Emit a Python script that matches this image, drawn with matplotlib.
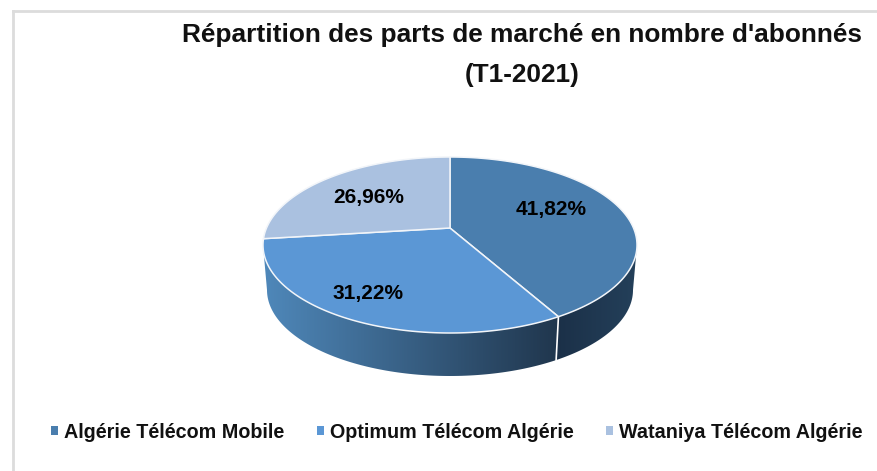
import matplotlib
matplotlib.use("Agg")
import matplotlib.pyplot as plt
import numpy as np
from matplotlib.colors import LinearSegmentedColormap
from matplotlib.lines import Line2D
from matplotlib.patches import Patch, Polygon

operators = ["Algérie Télécom Mobile", "Optimum Télécom Algérie", "Wataniya Télécom Algérie"]
shares = [41.82, 31.22, 26.96]
colors = ["#4a7eae", "#5b97d5", "#aac1e0"]
title_lines = "Répartition des parts de marché en nombre d'abonnés\n(T1-2021)"

FONT = "Liberation Sans"
CX, CY, RX, RY = 450, 245, 187, 88       # top face
BX, BY, BRX, BRY = 450, 290, 183, 86     # bottom of the rim
TILT = 0.193                             # perspective shift of the pie centre


def project(theta):
    # clockwise angle from 12 o'clock -> unit circle seen in perspective
    u, v = np.sin(theta), np.cos(theta)
    d = 1 + TILT * v
    return u * np.sqrt(1 - TILT ** 2) / d, (v + TILT) / d


def top_xy(u, v):
    return np.column_stack([CX + RX * u, CY - RY * v])


def bottom_xy(u, v):
    return np.column_stack([BX + BRX * u, BY - BRY * v])


def rim(ax, a, b, c0, c1):
    # a, b are angles on the projected ellipse, c0 -> c1 runs left to right
    t = np.linspace(a, b, 100)
    u, v = np.sin(t), np.cos(t)
    pts = np.vstack([top_xy(u, v), bottom_xy(u, v)[::-1]])
    poly = Polygon(pts, closed=True, fc="none", ec="none")
    ax.add_patch(poly)
    x0, x1 = pts[:, 0].min(), pts[:, 0].max()
    cmap = LinearSegmentedColormap.from_list("rim", [c0, c1])
    im = ax.imshow(np.linspace(0, 1, 256).reshape(1, -1), cmap=cmap, aspect="auto",
                   extent=(x0, x1, pts[:, 1].max(), pts[:, 1].min()), zorder=1)
    im.set_clip_path(poly)


fig = plt.figure(figsize=(8.77, 4.71), dpi=100)
ax = fig.add_axes([0, 0, 1, 1])

edges = np.cumsum([0] + shares) / sum(shares) * 2 * np.pi

# rim first, only the front half shows
u1, v1 = project(edges[1])
phi1 = np.arctan2(u1, v1)
rim(ax, np.pi / 2, phi1, "#1b3048", "#24405a")
rim(ax, phi1, 1.5 * np.pi, "#4f88ba", "#20364d")

# white seam between the two rim parts
seam = np.vstack([top_xy(u1, v1), bottom_xy(u1, v1)])
ax.plot(seam[:, 0], seam[:, 1], color="white", lw=1.2, zorder=2)

# top face
apex = (CX, CY - RY * TILT)
for i, c in enumerate(colors):
    t = np.linspace(edges[i], edges[i + 1], 200)
    pts = np.vstack([[apex], top_xy(*project(t))])
    ax.add_patch(Polygon(pts, closed=True, fc=c, ec="#f2f5f9", lw=1.1, zorder=3, joinstyle="round"))

label_pos = [(551, 209), (368, 293), (369, 198)]
for s, (x, y) in zip(shares, label_pos):
    ax.text(x, y, f"{s:.2f}%".replace(".", ","), ha="center", va="center", fontsize=15,
            fontweight="bold", family=FONT, color="black", zorder=4)

ax.text(522, 55, title_lines, ha="center", va="center", fontsize=18.9, fontweight="bold",
        family=FONT, color="#111111", linespacing=1.85)

handles = [Patch(fc=c, ec="none", label=n) for c, n in zip(colors, operators)]
ax.legend(handles=handles, ncol=3, loc="center", bbox_to_anchor=(457 / 877, 1 - 432 / 471),
          frameon=False, handlelength=0.36, handleheight=0.36, handletextpad=0.3,
          columnspacing=1.65, prop={"family": FONT, "weight": "bold", "size": 14.2},
          labelcolor="#111111")

# picture frame left over from the screenshot
ax.add_line(Line2D([13, 13], [11, 471], color="#dcdcdc", lw=2))
ax.add_line(Line2D([13, 877], [11, 11], color="#dcdcdc", lw=2))

ax.set_xlim(0, 877)
ax.set_ylim(471, 0)
ax.axis("off")
fig.savefig("out.png", dpi=100)
